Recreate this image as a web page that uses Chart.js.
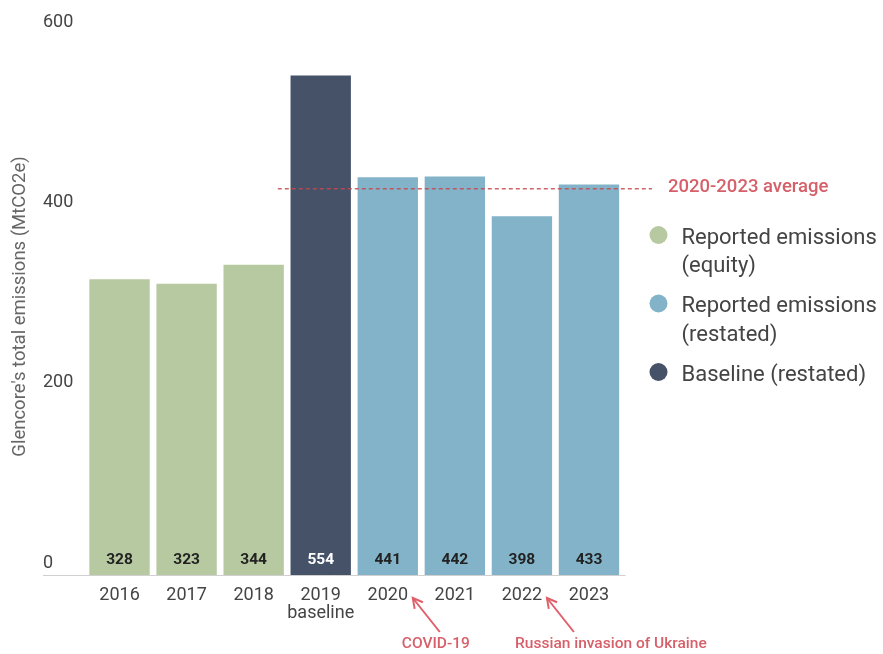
<!DOCTYPE html>
<html><head><meta charset="utf-8">
<script src="https://cdn.jsdelivr.net/npm/chart.js@4.4.1/dist/chart.umd.min.js"></script>
<style>html,body{margin:0;padding:0;background:#fff}#wrap{width:883px;height:654px;position:relative}</style>
</head><body><div id="wrap"><canvas id="c"></canvas></div>
<script>
// ---- data ----
const years = ['2016', '2017', '2018', '2019', '2020', '2021', '2022', '2023'];
const yearNotes = ['', '', '', 'baseline', '', '', '', ''];
const equityValues   = [328, 323, 344, null, null, null, null, null];
const restatedValues = [null, null, null, null, 441, 442, 398, 433];
const baselineValues = [null, null, null, 554, null, null, null, null];
const yTickValues = [0, 200, 400, 600];
const seriesNames = ['Reported emissions (equity)', 'Reported emissions (restated)', 'Baseline (restated)'];
const legendLines = [['Reported emissions', '(equity)'], ['Reported emissions', '(restated)'], ['Baseline (restated)']];
const averageYears = ['2020', '2021', '2022', '2023'];
const averageLabel = '2020-2023 average';
const eventYears = ['2020', '2022'];
const eventTexts = ['COVID-19', 'Russian invasion of Ukraine'];
const yAxisTitle = "Glencore's total emissions (MtCO2e)";

// ---- styles ----
const colors = ['#b7c9a0', '#83b3c8', '#455268'];
const labelColors = ['#222', '#222', '#fff'];
const redText = '#d6606a';
const FONT = 'Roboto, "Noto Sans", sans-serif';

const labels = years.map((y, i) => yearNotes[i] ? [y, yearNotes[i]] : y);
const seriesValues = [equityValues, restatedValues, baselineValues];
const averageValue = averageYears.reduce((s, y) => s + restatedValues[years.indexOf(y)], 0) / averageYears.length;

const overlay = {
  id: 'overlay',
  afterDatasetsDraw(chart) {
    const ctx = chart.ctx;
    const x = chart.scales.x, y = chart.scales.y, ca = chart.chartArea;
    const y0 = y.getPixelForValue(0);
    ctx.save();
    // axis line
    ctx.strokeStyle = '#d0d0d0';
    ctx.lineWidth = 1;
    ctx.beginPath();
    ctx.moveTo(y.left, Math.round(y0) + 0.5);
    ctx.lineTo(ca.right + 3, Math.round(y0) + 0.5);
    ctx.stroke();
    // value labels
    ctx.font = 'bold 15.5px ' + FONT;
    ctx.textAlign = 'center';
    ctx.textBaseline = 'middle';
    chart.data.datasets.forEach((ds, di) => {
      const meta = chart.getDatasetMeta(di);
      meta.data.forEach((bar, j) => {
        const v = ds.data[j];
        if (v === null || v === undefined) return;
        ctx.fillStyle = labelColors[di];
        ctx.fillText(String(v), bar.x, y0 - 15);
      });
    });
    // average dashed line
    const ay = y.getPixelForValue(averageValue);
    ctx.strokeStyle = 'rgba(200,70,80,0.85)';
    ctx.lineWidth = 1.5;
    ctx.setLineDash([4, 3]);
    ctx.beginPath();
    ctx.moveTo(x.getPixelForValue(2.36), ay);
    ctx.lineTo(x.getPixelForValue(7.94), ay);
    ctx.stroke();
    ctx.setLineDash([]);
    ctx.fillStyle = redText;
    ctx.font = '500 18.5px ' + FONT;
    ctx.textAlign = 'left';
    ctx.fillText(averageLabel, x.getPixelForValue(7.94) + 16, ay - 1);
    // event arrows and texts
    const textOffsets = [48, 89];
    eventYears.forEach((yr, k) => {
      const cx = x.getPixelForValue(years.indexOf(yr));
      const hx = cx + 25, hy = y0 + 23;
      const tx = cx + 52, ty = y0 + 57;
      ctx.strokeStyle = '#e0606a';
      ctx.lineWidth = 2;
      ctx.beginPath();
      ctx.moveTo(tx, ty);
      ctx.lineTo(hx, hy);
      ctx.stroke();
      const ang = Math.atan2(hy - ty, hx - tx);
      const L = 11;
      ctx.beginPath();
      ctx.moveTo(hx + L * Math.cos(ang + Math.PI - 0.5), hy + L * Math.sin(ang + Math.PI - 0.5));
      ctx.lineTo(hx, hy);
      ctx.lineTo(hx + L * Math.cos(ang + Math.PI + 0.5), hy + L * Math.sin(ang + Math.PI + 0.5));
      ctx.stroke();
      ctx.fillStyle = redText;
      ctx.font = '500 15.5px ' + FONT;
      ctx.textAlign = 'center';
      ctx.fillText(eventTexts[k], cx + textOffsets[k], y0 + 69);
    });
    // y axis title
    ctx.save();
    ctx.translate(20, (ca.top + ca.bottom) / 2 + 2);
    ctx.rotate(-Math.PI / 2);
    ctx.fillStyle = '#666';
    ctx.font = '18.5px ' + FONT;
    ctx.textAlign = 'center';
    ctx.textBaseline = 'middle';
    ctx.fillText(yAxisTitle, 0, 0);
    ctx.restore();
    // legend
    let ly = 238;
    legendLines.forEach((lines, i) => {
      ctx.fillStyle = colors[i];
      ctx.beginPath();
      ctx.arc(ca.right + 36, ly - 3, 9, 0, Math.PI * 2);
      ctx.fill();
      ctx.fillStyle = '#444';
      ctx.font = '22px ' + FONT;
      ctx.textAlign = 'left';
      ctx.textBaseline = 'middle';
      lines.forEach((t, li) => ctx.fillText(t, ca.right + 59, ly + li * 28.5));
      ly += (lines.length - 1) * 28.5 + 40;
    });
    ctx.restore();
  }
};

new Chart(document.getElementById('c'), {
  type: 'bar',
  data: {
    labels: labels,
    datasets: seriesNames.map((name, i) => ({
      label: name,
      data: seriesValues[i],
      backgroundColor: colors[i],
      borderWidth: 0,
      barPercentage: 0.9,
      categoryPercentage: 1.0
    }))
  },
  options: {
    responsive: true,
    maintainAspectRatio: false,
    animation: false,
    layout: { padding: { left: 43, right: 260.5, top: 34, bottom: 27 } },
    plugins: { legend: { display: false }, tooltip: { enabled: false } },
    scales: {
      x: {
        stacked: true,
        grid: { display: false, drawTicks: false },
        border: { display: false },
        ticks: { color: '#444', font: { family: FONT, size: 18, lineHeight: 1.0 }, padding: 11, maxRotation: 0, autoSkip: false },
        afterFit(s) { s.height = 52; }
      },
      y: {
        stacked: true,
        min: 0, max: 600,
        afterBuildTicks(s) { s.ticks = yTickValues.map(v => ({ value: v })); },
        grid: { display: false, drawTicks: false },
        border: { display: false },
        ticks: { color: '#444', font: { family: FONT, size: 18 }, crossAlign: 'far', labelOffset: -12, padding: 0 },
        afterFit(s) { s.width = 43; }
      }
    }
  },
  plugins: [overlay]
});
</script></body></html>
